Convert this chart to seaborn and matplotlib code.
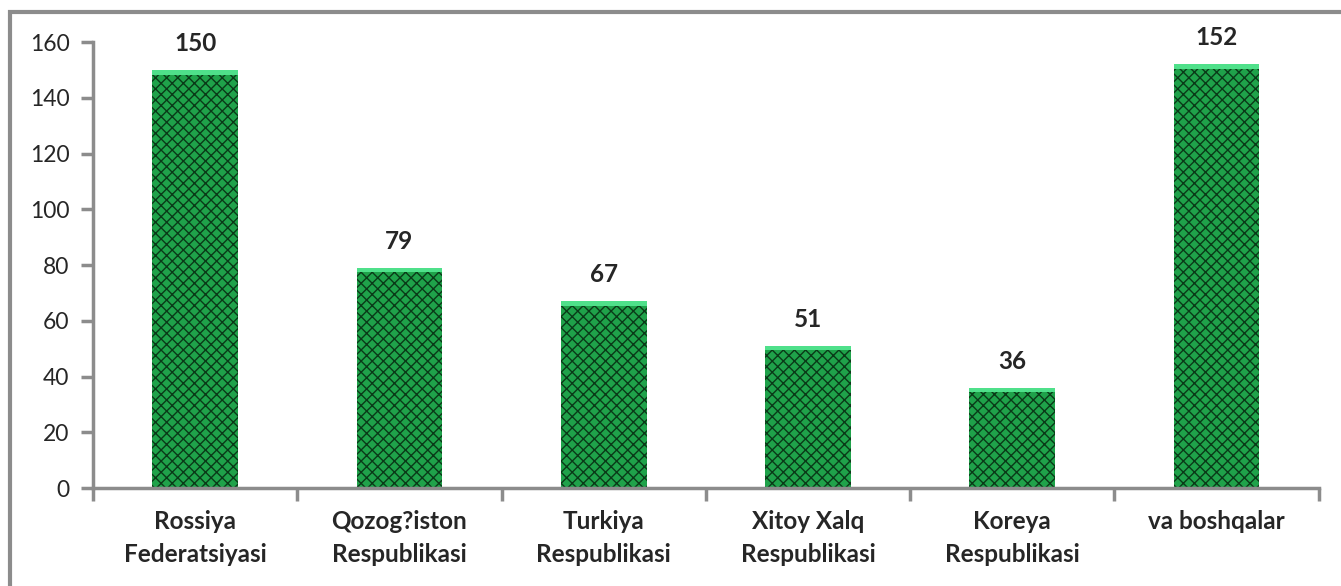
import numpy as np
import pandas as pd
import seaborn as sns
import matplotlib.pyplot as plt
from matplotlib.patches import Rectangle

# data
countries = ['Rossiya\nFederatsiyasi', 'Qozog?iston\nRespublikasi', 'Turkiya\nRespublikasi',
             'Xitoy Xalq\nRespublikasi', 'Koreya\nRespublikasi', 'va boshqalar']
counts = [150, 79, 67, 51, 36, 152]
yticks = [0, 20, 40, 60, 80, 100, 120, 140, 160]

df = pd.DataFrame({'Country': countries, 'Count': counts})

sns.set_style('white')
plt.rcParams['font.family'] = ['Lato', 'DejaVu Sans']
plt.rcParams['hatch.linewidth'] = 1.0

fig = plt.figure(figsize=(13.41, 5.86), dpi=100)
ax = fig.add_axes([0.0694, 0.167, 0.914, 0.761])

# outer gray frame
fig.patches.append(Rectangle((10 / 1341, -0.05), 1.1, 1 - 12 / 586 + 0.05, transform=fig.transFigure,
                             fill=False, edgecolor='#8c8c8c', linewidth=3, zorder=0))

sns.barplot(data=df, x='Country', y='Count', color='#1fa24a', width=0.42, ax=ax,
            saturation=1, linewidth=0)
for p in ax.patches:
    p.set_hatch('xxx')
    p.set_edgecolor('#0a3a18')
    p.set_linewidth(0)

# lighter strip at the top of each bar
ax.bar(np.arange(len(counts)), [1.6] * len(counts), bottom=np.array(counts) - 1.6,
       width=0.42, color='#4fe08a', linewidth=0, zorder=3)

ax.bar_label(ax.containers[0], labels=[str(c) for c in counts], padding=11,
             fontsize=17.5, fontweight='bold')

ax.set_ylim(0, 160)
ax.set_xlim(-0.5, len(counts) - 0.5)
ax.set_yticks(yticks)
ax.set_xticks(np.arange(len(counts)))
ax.set_xticklabels(countries, fontsize=17.5, fontweight='bold', linespacing=1.5)
ax.set_xticks(np.arange(len(counts) + 1) - 0.5, minor=True)
ax.tick_params(axis='y', labelsize=16.5, length=9, width=2.5, color='#8c8c8c', pad=8, direction='out', left=True)
ax.tick_params(axis='x', which='major', length=0, pad=16)
ax.tick_params(axis='x', which='minor', length=9, width=2.5, color='#8c8c8c', direction='out', bottom=True)
ax.set_xlabel('')
ax.set_ylabel('')

for s in ['top', 'right']:
    ax.spines[s].set_visible(False)
for s in ['left', 'bottom']:
    ax.spines[s].set_color('#8c8c8c')
    ax.spines[s].set_linewidth(2.5)

fig.savefig('out.png', dpi=100)
